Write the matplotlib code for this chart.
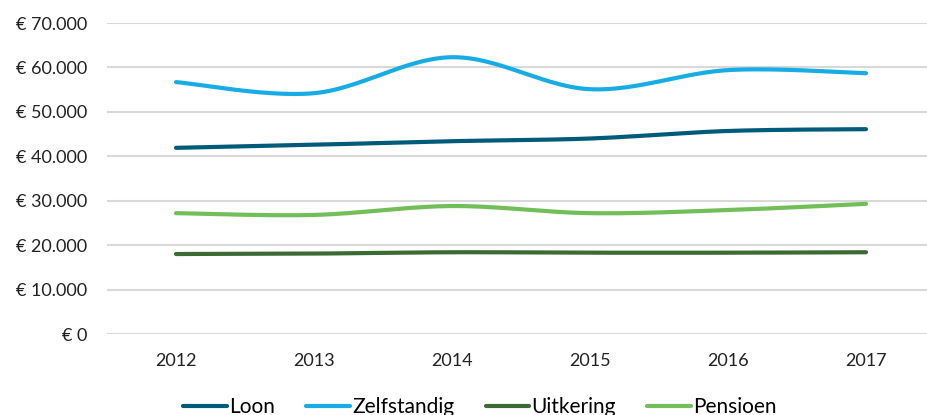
import numpy as np
import matplotlib.pyplot as plt
from matplotlib.ticker import FuncFormatter

plt.rcParams['font.family'] = ['Lato', 'DejaVu Sans']

jaren = ['2012', '2013', '2014', '2015', '2016', '2017']
loon = [41900, 42600, 43400, 44000, 45700, 46100]
zelfstandig = [56700, 54200, 62300, 55100, 59400, 58700]
uitkering = [18000, 18100, 18400, 18300, 18300, 18400]
pensioen = [27200, 26800, 28800, 27200, 27900, 29300]

reeksen = [
    ('Loon', loon, '#005b7a'),
    ('Zelfstandig', zelfstandig, '#17ade4'),
    ('Uitkering', uitkering, '#3b6a32'),
    ('Pensioen', pensioen, '#72bf5a'),
]


# Excel-achtige gladde lijn (Catmull-Rom / Bezier door de punten)
def glad(x, y, n=30):
    x = np.asarray(x, float)
    y = np.asarray(y, float)
    px = np.concatenate([[x[0]], x, [x[-1]]])
    py = np.concatenate([[y[0]], y, [y[-1]]])
    xs, ys = [], []
    t = np.linspace(0, 1, n)
    for i in range(1, len(px) - 2):
        p0 = np.array([px[i], py[i]])
        p3 = np.array([px[i + 1], py[i + 1]])
        p1 = p0 + (np.array([px[i + 1], py[i + 1]]) - np.array([px[i - 1], py[i - 1]])) / 6
        p2 = p3 - (np.array([px[i + 2], py[i + 2]]) - np.array([px[i], py[i]])) / 6
        b = ((1 - t) ** 3)[:, None] * p0 + (3 * (1 - t) ** 2 * t)[:, None] * p1 \
            + (3 * (1 - t) * t ** 2)[:, None] * p2 + (t ** 3)[:, None] * p3
        xs.extend(b[:, 0])
        ys.extend(b[:, 1])
    return xs, ys


fig = plt.figure(figsize=(9.27, 4.15), dpi=100)
ax = fig.add_axes([107 / 927, 81 / 415, 828 / 927, 311 / 415])

x = np.arange(len(jaren))
for naam, waarden, kleur in reeksen:
    gx, gy = glad(x, waarden)
    ax.plot(gx, gy, color=kleur, lw=3, solid_capstyle='round', label=naam)

ax.set_xlim(-0.5, len(jaren) - 0.5)
ax.set_ylim(0, 70000)
ax.set_yticks(range(0, 70001, 10000))
ax.yaxis.set_major_formatter(FuncFormatter(lambda v, p: '€ ' + f'{int(v):,}'.replace(',', '.')))
ax.set_xticks(x)
ax.set_xticklabels(jaren)
ax.tick_params(length=0, labelsize=13, colors='#222222')
ax.tick_params(axis='x', pad=14)
ax.tick_params(axis='y', pad=14)
ax.grid(axis='y', color='#d9d9d9', lw=1.5)
ax.set_axisbelow(True)
for s in ax.spines.values():
    s.set_visible(False)

fig.legend(loc='center', bbox_to_anchor=(480 / 927, 8 / 415), ncol=4, frameon=False,
           fontsize=15, handlelength=2.1, handletextpad=0.1, columnspacing=1.5)

fig.savefig('out.png', dpi=100)
